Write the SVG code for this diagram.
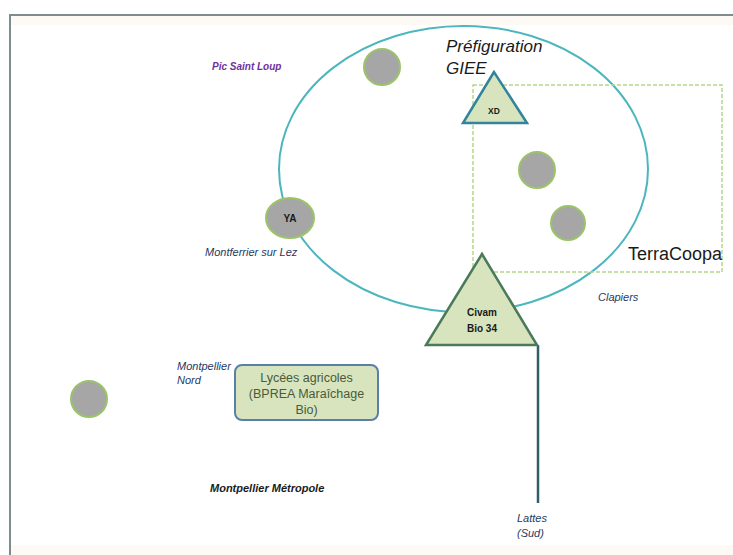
<svg xmlns="http://www.w3.org/2000/svg" width="733" height="555" viewBox="0 0 733 555">
<style>
.dot{fill:#a6a6a6;stroke:#9bc46a;stroke-width:2}
.tri{fill:#d7e4bd;stroke-width:2.5}
.lbl{font-family:"Liberation Sans",Arial,sans-serif;font-style:italic;font-size:11px;fill:#1f3864}
.bold{font-weight:bold}
.small{font-family:"Liberation Sans",Arial,sans-serif;font-weight:bold;font-size:10px;fill:#1a1a1a;text-anchor:middle}
.box{font-family:"Liberation Sans",Arial,sans-serif;font-size:12.5px;fill:#4a5a3a;text-anchor:middle}
</style>
<rect x="0" y="0" width="733" height="555" fill="#ffffff"/>
<rect x="10" y="16" width="723" height="9" fill="#fdf9f5"/>
<rect x="10" y="545" width="723" height="10" fill="#fdf9f5"/>
<path d="M10 555 V15 H733" fill="none" stroke="#7f8c8d" stroke-width="2"/>

<g id="giee">
<ellipse cx="463.5" cy="169" rx="184.5" ry="143" fill="none" stroke="#4bb6bd" stroke-width="2"/>
<text x="446" y="52" font-family="'Liberation Sans',Arial,sans-serif" font-style="italic" font-size="17" fill="#1a1a1a">Préfiguration</text>
<text x="446" y="74" font-family="'Liberation Sans',Arial,sans-serif" font-style="italic" font-size="17" fill="#1a1a1a">GIEE</text>
</g>

<g id="terracoopa">
<rect x="473" y="85" width="249" height="187" fill="none" stroke="#b3d88a" stroke-width="1.5" stroke-dasharray="4 2"/>
<text x="628" y="260" font-family="'Liberation Sans',Arial,sans-serif" font-size="18" fill="#1a1a1a">TerraCoopa</text>
</g>

<g id="connectors">
<path d="M538 345 V503" fill="none" stroke="#2f5f6a" stroke-width="2.5"/>
</g>

<g id="xd">
<polygon class="tri" points="494,72 463,123 527,123" stroke="#31849b"/>
<text class="small" x="494" y="114" style="font-size:8.5px">XD</text>
</g>

<g id="civam">
<polygon class="tri" points="482,254 426,345 537,345" stroke="#4b7a5a"/>
<text class="small" x="482" y="316">Civam</text>
<text class="small" x="482" y="332">Bio 34</text>
</g>

<g id="dot-top"><circle class="dot" cx="382" cy="67" r="18"/></g>
<g id="dot-1"><circle class="dot" cx="537" cy="170" r="18"/></g>
<g id="dot-2"><circle class="dot" cx="568" cy="223" r="17"/></g>
<g id="dot-left"><circle class="dot" cx="89" cy="399" r="18"/></g>
<g id="ya">
<ellipse class="dot" cx="290" cy="218" rx="24" ry="20"/>
<text class="small" x="290" y="222">YA</text>
</g>

<g id="lycees">
<rect x="235" y="365" width="143" height="55" rx="7" fill="#d7e4bd" stroke="#5b7fa6" stroke-width="2"/>
<text class="box" x="306.5" y="382">Lycées agricoles</text>
<text class="box" x="306.5" y="398">(BPREA Maraîchage</text>
<text class="box" x="306.5" y="414">Bio)</text>
</g>

<g id="labels">
<text class="lbl bold" x="212" y="70" style="fill:#7030a0;font-size:10px">Pic Saint Loup</text>
<text class="lbl" x="205" y="256">Montferrier sur Lez</text>
<text class="lbl" x="598" y="301">Clapiers</text>
<text class="lbl" x="177" y="370">Montpellier</text>
<text class="lbl" x="177" y="384">Nord</text>
<text class="lbl bold" x="210" y="492" style="fill:#1a1a1a">Montpellier Métropole</text>
<text class="lbl" x="517" y="522">Lattes</text>
<text class="lbl" x="517" y="537">(Sud)</text>
</g>
</svg>
